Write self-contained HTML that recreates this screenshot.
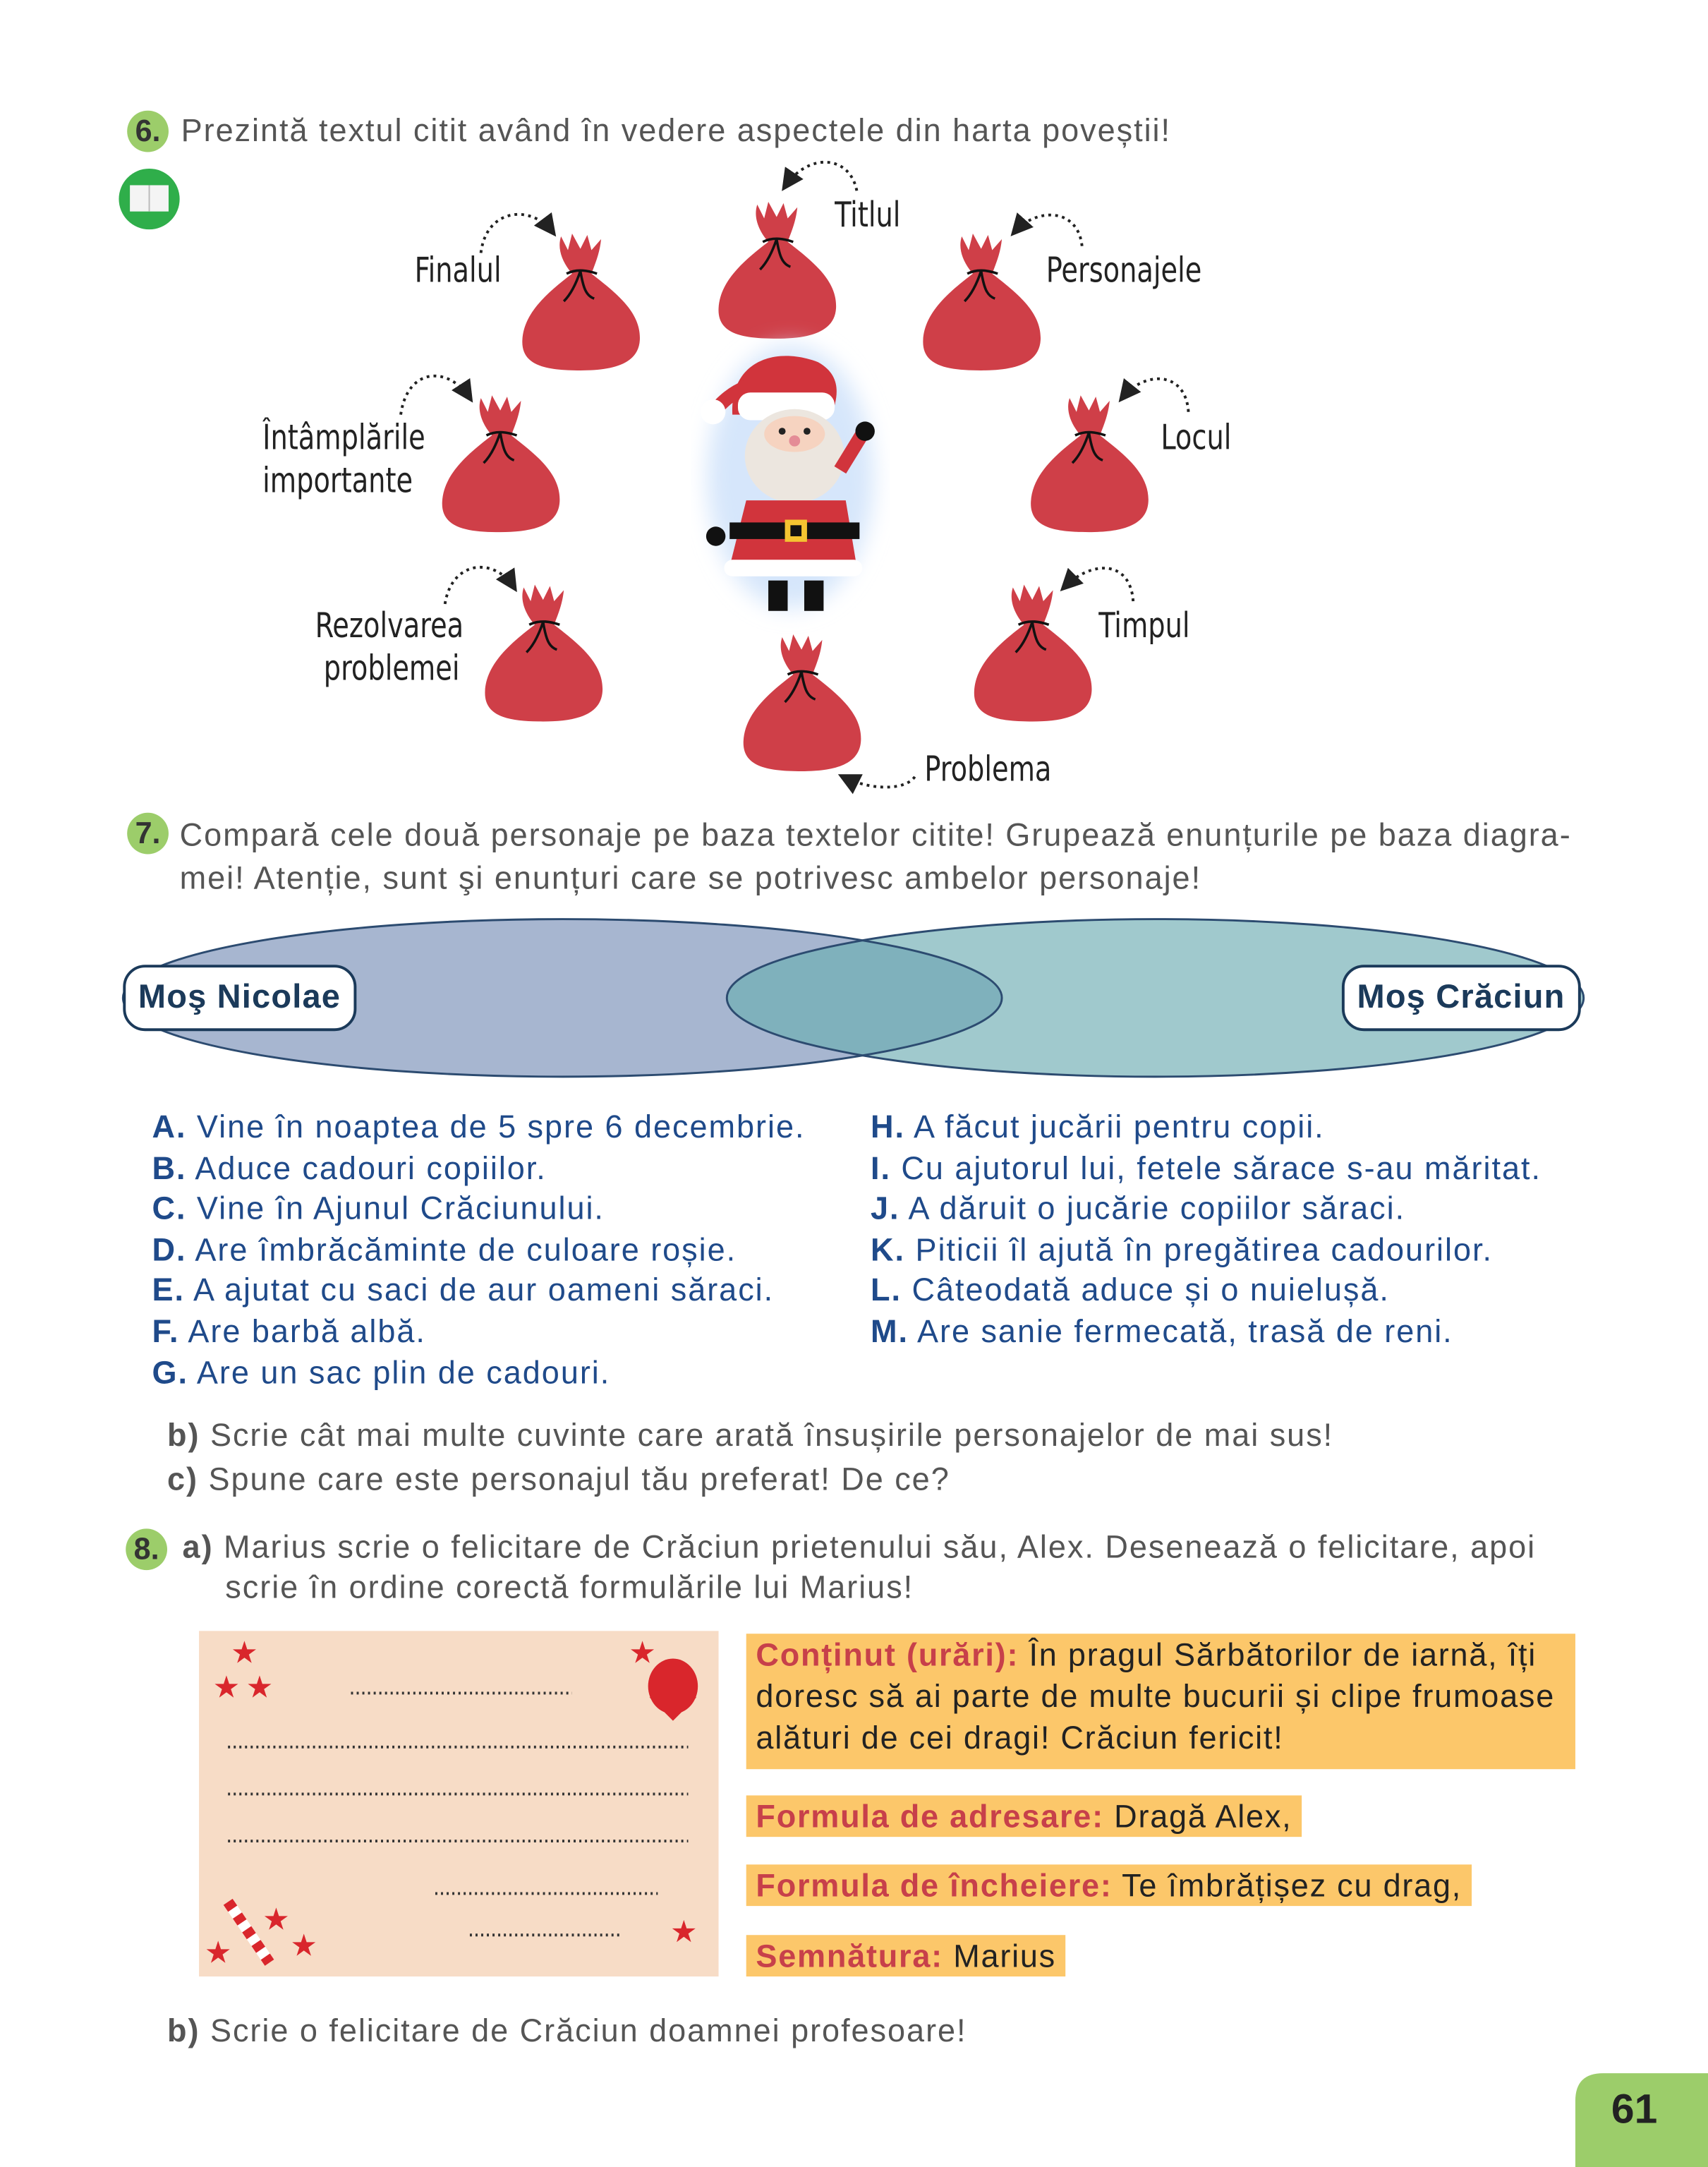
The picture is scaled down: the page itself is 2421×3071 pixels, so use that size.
<!DOCTYPE html>
<html><head><meta charset="utf-8"><style>
html,body{margin:0;padding:0;background:#fff;}
body{width:2421px;height:3071px;overflow:hidden;position:relative;}
#p{position:absolute;left:0;top:0;width:1236px;height:1568px;transform:scale(1.95874);transform-origin:0 0;font-family:"Liberation Sans",sans-serif;}
.a{position:absolute;white-space:nowrap;}
.g{color:#555;font-size:23px;letter-spacing:1px;}
.num{position:absolute;width:30px;height:30px;border-radius:50%;background:#9ccd6a;color:#333;font-weight:bold;font-size:22px;text-align:center;line-height:30px;}
.hw{font-family:"DejaVu Sans Condensed","Liberation Sans Narrow",sans-serif;font-size:25px;color:#222;position:absolute;white-space:nowrap;line-height:31px;transform:scaleX(0.87);transform-origin:0 0;}
.li{position:absolute;color:#1f4a8a;font-size:23px;white-space:nowrap;line-height:29.6px;letter-spacing:1px;}
.li b{color:#1f4a8a}
.y{position:absolute;background:#fcc76a;font-size:23px;color:#222;padding:0 7px;line-height:30px;letter-spacing:0.9px;}
.y b{color:#c7404a;}
.lab{position:absolute;border:2.5px solid #1b3a5a;border-radius:16px;background:#fff;color:#1b3a5a;font-weight:bold;font-size:24px;height:44px;line-height:44px;padding:0 9px;letter-spacing:0.6px;}
</style></head><body><div id="p">
<svg width="1236" height="1568" style="position:absolute;left:0;top:0">
<defs>
<g id="bag"><path d="M38,30 C31,22 27,12 30,3 L35,13 L38,1 L44,12 L49,2 L52,13 L59,5 C58,15 55,22 52,30 C70,44 88,58 87,78 C86,96 66,100 44,100 C20,100 1,97 2,78 C3,58 21,43 38,30 Z" fill="#cf3f48"/>
<path d="M34,30 C42,26 50,28 56,30 M44,28 C40,40 36,46 32,50 M44,28 C46,40 48,46 54,48" stroke="#111" stroke-width="1.8" fill="none"/></g>
<marker id="ar" markerWidth="8" markerHeight="8" refX="6" refY="4" orient="auto"><path d="M0,0 L8,4 L0,8 Z" fill="#222"/></marker>
<filter id="bl"><feGaussianBlur stdDeviation="8"/></filter>
</defs>
<circle cx="108" cy="144" r="22" fill="#2fae4a"/><rect x="94" y="134" width="28" height="19" fill="#f4f4f4"/><line x1="108" y1="134" x2="108" y2="153" stroke="#bbb"/>
<use href="#bag" x="376" y="168"/><use href="#bag" x="518" y="145"/><use href="#bag" x="666" y="168"/>
<use href="#bag" x="318" y="285"/><use href="#bag" x="744" y="285"/>
<use href="#bag" x="349" y="422"/><use href="#bag" x="703" y="422"/><use href="#bag" x="536" y="458"/>
<g stroke="#222" stroke-width="2" stroke-dasharray="2,3" fill="none" marker-end="url(#ar)">
<path d="M348,183 C352,150 385,148 400,168"/>
<path d="M620,138 C615,112 585,110 568,135"/>
<path d="M783,178 C780,150 750,150 734,168"/>
<path d="M290,300 C295,265 325,265 340,288"/>
<path d="M860,298 C858,268 828,268 812,288"/>
<path d="M322,437 C327,405 358,403 372,425"/>
<path d="M820,435 C818,405 790,405 770,425"/>
<path d="M662,562 C655,572 630,572 610,562"/>
</g>
<!-- santa -->
<ellipse cx="572" cy="345" rx="60" ry="95" fill="#d6e6fb" filter="url(#bl)"/>
<path d="M530,300 C528,262 560,250 592,262 C610,272 606,288 602,300 Z" fill="#d1343c"/>
<path d="M540,280 C528,285 522,292 518,296" stroke="#d1343c" stroke-width="10" fill="none"/>
<circle cx="516" cy="298" r="9" fill="#fff"/>
<rect x="534" y="284" width="70" height="20" rx="9" fill="#fff"/>
<ellipse cx="575" cy="330" rx="36" ry="34" fill="#ece6df"/>
<ellipse cx="575" cy="314" rx="22" ry="13" fill="#f6d3c0"/>
<circle cx="566" cy="312" r="2.5" fill="#222"/><circle cx="584" cy="312" r="2.5" fill="#222"/><circle cx="575" cy="319" r="4" fill="#e48c96"/>
<path d="M540,362 L612,362 L620,410 L528,410 Z" fill="#d1343c"/>
<rect x="528" y="378" width="94" height="12" fill="#111"/><rect x="568" y="376" width="16" height="16" fill="#f4c431"/><rect x="572" y="380" width="8" height="8" fill="#111"/>
<rect x="524" y="405" width="100" height="12" rx="6" fill="#fff"/>
<rect x="556" y="420" width="14" height="22" fill="#111"/><rect x="582" y="420" width="14" height="22" fill="#111"/>
<path d="M608,340 L624,314" stroke="#d1343c" stroke-width="10"/><circle cx="626" cy="312" r="7" fill="#111"/><circle cx="518" cy="388" r="7" fill="#111"/>
<!-- venn -->
<ellipse cx="407" cy="722" rx="318" ry="57" fill="#a7b6d0"/>
<ellipse cx="836" cy="722" rx="310" ry="57" fill="#a0c9cd"/>
<clipPath id="c1"><ellipse cx="407" cy="722" rx="318" ry="57"/></clipPath>
<ellipse cx="836" cy="722" rx="310" ry="57" fill="#7fb1bc" clip-path="url(#c1)"/>
<ellipse cx="407" cy="722" rx="318" ry="57" fill="none" stroke="#2c4b70" stroke-width="1.5"/>
<ellipse cx="836" cy="722" rx="310" ry="57" fill="none" stroke="#2c4b70" stroke-width="1.5"/>
<!-- card -->
<rect x="144" y="1180" width="376" height="250" fill="#f7dcc6"/>
<g fill="#d9262c" font-size="22" font-family="DejaVu Sans">
<text x="167" y="1203">★</text><text x="154" y="1228">★</text><text x="178" y="1228">★</text><text x="455" y="1203">★</text>
<text x="190" y="1396">★</text><text x="148" y="1420">★</text><text x="210" y="1415">★</text><text x="485" y="1405">★</text></g>
<ellipse cx="487" cy="1220" rx="18" ry="20" fill="#d9262c"/><path d="M470,1228 L487,1245 L504,1228" fill="#d9262c"/>
<path d="M165,1376 L195,1420" stroke="#fff" stroke-width="8"/><path d="M165,1376 L195,1420" stroke="#d9262c" stroke-width="8" stroke-dasharray="6,6"/>
<g stroke="#333" stroke-width="2" stroke-dasharray="1.5,2.6">
<line x1="254" y1="1225" x2="414" y2="1225"/><line x1="165" y1="1264" x2="498" y2="1264"/><line x1="165" y1="1298" x2="498" y2="1298"/><line x1="165" y1="1332" x2="498" y2="1332"/><line x1="315" y1="1370" x2="476" y2="1370"/><line x1="340" y1="1400" x2="450" y2="1400"/></g>
<path d="M1140,1568 L1140,1520 Q1140,1500 1160,1500 L1236,1500 L1236,1568 Z" fill="#9ccd6a"/>
</svg>
<div class="num" style="left:92px;top:80px">6.</div>
<div class="a g" style="left:131px;top:81px">Prezintă textul citit având în vedere aspectele din harta poveștii!</div>
<div class="hw" style="left:300px;top:180px">Finalul</div>
<div class="hw" style="left:604px;top:140px">Titlul</div>
<div class="hw" style="left:757px;top:180px">Personajele</div>
<div class="hw" style="left:190px;top:301px">Întâmplările<br>importante</div>
<div class="hw" style="left:840px;top:301px">Locul</div>
<div class="hw" style="left:228px;top:437px">Rezolvarea<br>&nbsp;problemei</div>
<div class="hw" style="left:795px;top:437px">Timpul</div>
<div class="hw" style="left:669px;top:541px">Problema</div>
<div class="num" style="left:92px;top:588px">7.</div>
<div class="a g" style="left:130px;top:589px;line-height:31px">Compară cele două personaje pe baza textelor citite! Grupează enunțurile pe baza diagra-<br>mei! Atenție, sunt şi enunțuri care se potrivesc ambelor personaje!</div>
<div class="lab" style="left:89px;top:698px">Moş Nicolae</div>
<div class="lab" style="left:971px;top:698px">Moş Crăciun</div>
<div class="li" style="left:110px;top:801px"><b>A.</b> Vine în noaptea de 5 spre 6 decembrie.<br><b>B.</b> Aduce cadouri copiilor.<br><b>C.</b> Vine în Ajunul Crăciunului.<br><b>D.</b> Are îmbrăcăminte de culoare roșie.<br><b>E.</b> A ajutat cu saci de aur oameni săraci.<br><b>F.</b> Are barbă albă.<br><b>G.</b> Are un sac plin de cadouri.</div>
<div class="li" style="left:630px;top:801px"><b>H.</b> A făcut jucării pentru copii.<br><b>I.</b> Cu ajutorul lui, fetele sărace s-au măritat.<br><b>J.</b> A dăruit o jucărie copiilor săraci.<br><b>K.</b> Piticii îl ajută în pregătirea cadourilor.<br><b>L.</b> Câteodată aduce și o nuielușă.<br><b>M.</b> Are sanie fermecată, trasă de reni.</div>
<div class="a g" style="left:121px;top:1022px;line-height:32px"><b>b)</b> Scrie cât mai multe cuvinte care arată însușirile personajelor de mai sus!<br><b>c)</b> Spune care este personajul tău preferat! De ce?</div>
<div class="num" style="left:91px;top:1106px">8.</div>
<div class="a g" style="left:132px;top:1104px;line-height:31px"><b>a)</b> Marius scrie o felicitare de Crăciun prietenului său, Alex. Desenează o felicitare, apoi</div>
<div class="a g" style="left:163px;top:1135px">scrie în ordine corectă formulările lui Marius!</div>
<div class="y" style="left:540px;top:1182px;width:586px;height:98px;"><b>Conținut (urări):</b> În pragul Sărbătorilor de iarnă, îți doresc să ai parte de multe bucurii și clipe frumoase alături de cei dragi! Crăciun fericit!</div>
<div class="y" style="left:540px;top:1299px;height:30px"><b>Formula de adresare:</b> Dragă Alex,</div>
<div class="y" style="left:540px;top:1349px;height:30px"><b>Formula de încheiere:</b> Te îmbrățișez cu drag,</div>
<div class="y" style="left:540px;top:1400px;height:30px"><b>Semnătura:</b> Marius</div>
<div class="a g" style="left:121px;top:1456px"><b>b)</b> Scrie o felicitare de Crăciun doamnei profesoare!</div>
<div class="a" style="left:1166px;top:1510px;font-size:30px;font-weight:bold;color:#222">61</div>
</div></body></html>
